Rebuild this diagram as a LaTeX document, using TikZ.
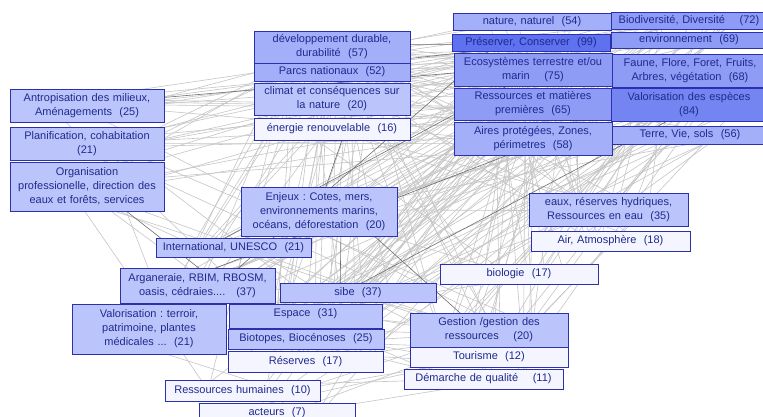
\documentclass[tikz,border=0pt]{standalone}
\usepackage{fontspec}
\setmainfont{Liberation Sans}
\frenchspacing
\usetikzlibrary{backgrounds,calc}
\definecolor{textc}{HTML}{1F2A8E}
\definecolor{bordc}{HTML}{2B30AE}
\definecolor{cA}{HTML}{F4F5FF}
\definecolor{cB}{HTML}{BCC5FB}
\definecolor{cC}{HTML}{A3AFF9}
\definecolor{cD}{HTML}{8E9CF6}
\definecolor{cE}{HTML}{7485F2}
\definecolor{cF}{HTML}{5E71EE}
\definecolor{edgec}{HTML}{C6C6C6}
\definecolor{edgedark}{HTML}{6E6E6E}
\begin{document}
\begin{tikzpicture}[x=1pt,y=-1pt,
  box/.style={draw=bordc, line width=0.9pt, text=textc, align=center,
    font=\fontsize{11}{14}\selectfont, inner xsep=3pt, inner ysep=1pt,
    text width=150pt},
  edge/.style={draw=edgec, line width=0.6pt},
  strong/.style={draw=edgedark, line width=0.6pt}]
\useasboundingbox (0,0) rectangle (763,417);
\pgfmathsetseed{12}

% top-middle column
\node[box, fill=cC, minimum height=32pt] (dev) at (332,47) {développement durable,\\ durabilité\ \ (57)};
\node[box, fill=cC, minimum height=18pt] (parcs) at (332,72) {Parcs nationaux\ \ (52)};
\node[box, fill=cB, minimum height=32pt] (clim) at (332,99) {climat et conséquences sur\\ la nature\ \ (20)};
\node[box, fill=cA, minimum height=22pt] (ener) at (332,129) {énergie renouvelable\ \ (16)};
% left column
\node[box, fill=cB, text width=148pt, minimum height=33pt] (antr) at (87,105.5) {Antropisation des milieux,\\ Aménagements\ \ (25)};
\node[box, fill=cB, text width=148pt, minimum height=33pt] (plan) at (87,143.5) {Planification, cohabitation\\ (21)};
\node[box, fill=cB, text width=148pt, minimum height=49pt] (orga) at (87,186.5) {Organisation\\ professionelle, direction des\\ eaux et forêts, services};
% top-right cluster
\node[box, fill=cC, text width=152pt, minimum height=17pt] (nat) at (532,21.5) {nature, naturel\ \ (54)};
\node[box, fill=cD, minimum height=17pt] (biod) at (689,20.5) {Biodiversité, Diversité\quad\ (72)};
\node[box, fill=cF, text width=152pt, minimum height=17pt] (pres) at (531,42.5) {Préserver, Conserver\ \ (99)};
\node[box, fill=cD, minimum height=16pt] (env) at (689,40) {environnement\ \ (69)};
\node[box, fill=cD, text width=152pt, minimum height=33pt] (eco) at (533,69.5) {Ecosystèmes terrestre et/ou\\ marin\quad\ (75)};
\node[box, fill=cD, minimum height=33pt] (faune) at (690,70.5) {Faune, Flore, Foret, Fruits,\\ Arbres, végétation\ \ (68)};
\node[box, fill=cD, text width=152pt, minimum height=32pt] (ress) at (533,104) {Ressources et matières\\ premières\ \ (65)};
\node[box, fill=cE, minimum height=33pt] (valo) at (689,104.5) {Valorisation des espèces\\ (84)};
\node[box, fill=cC, text width=152pt, minimum height=33pt] (aires) at (533,138.5) {Aires protégées, Zones,\\ périmetres\ \ (58)};
\node[box, fill=cC, minimum height=18pt] (terre) at (690,135) {Terre, Vie, sols\ \ (56)};
% middle
\node[box, fill=cB, minimum height=49pt] (enj) at (319,211.5) {Enjeux : Cotes, mers,\\ environnements marins,\\ océans, déforestation\ \ (20)};
\node[box, fill=cB, text width=149pt, minimum height=19pt] (intl) at (233.5,247.5) {International, UNESCO\ \ (21)};
\node[box, fill=cB, text width=149pt, minimum height=35pt] (arg) at (197.5,285.5) {Arganeraie, RBIM, RBOSM,\\ oasis, cédraies....\quad (37)};
\node[box, fill=cB, minimum height=19pt] (sibe) at (358,292.5) {sibe\ \ (37)};
\node[box, fill=cB, text width=148pt, minimum height=50pt] (valt) at (149,329) {Valorisation : terroir,\\ patrimoine, plantes\\ médicales ...\ \ (21)};
\node[box, fill=cB, text width=147pt, minimum height=24pt, text depth=6pt] (esp) at (305.5,316) {Espace\ \ (31)};
\node[box, fill=cB, minimum height=20pt] (biot) at (306,339) {Biotopes, Biocénoses\ \ (25)};
\node[box, fill=cA, text width=149pt, minimum height=21pt] (res) at (305.5,361.5) {Réserves\ \ (17)};
\node[box, fill=cA, text width=149pt, minimum height=21pt] (rh) at (242.5,390.5) {Ressources humaines\ \ (10)};
\node[box, fill=cA, minimum height=20pt] (act) at (277,413) {acteurs\ \ (7)};
% right / bottom
\node[box, fill=cB, text width=153pt, minimum height=33pt] (eaux) at (608.5,209.5) {eaux, réserves hydriques,\\ Ressources en eau\ \ (35)};
\node[box, fill=cA, text width=153pt, minimum height=20pt] (air) at (610.5,241) {Air, Atmosphère\ \ (18)};
\node[box, fill=cA, text width=152pt, minimum height=20pt] (bio) at (519,274) {biologie\ \ (17)};
\node[box, fill=cB, text width=152pt, minimum height=34pt] (gest) at (489,330) {Gestion /gestion des\\ ressources\quad\ (20)};
\node[box, fill=cA, text width=152pt, minimum height=20pt] (tour) at (489,357) {Tourisme\ \ (12)};
\node[box, fill=cA, text width=153pt, minimum height=20pt] (dem) at (483.5,379) {Démarche de qualité\quad\ (11)};

\begin{scope}[on background layer]
\fill[white] (0,0) rectangle (763,417);
\foreach \a/\b in {
 dev/nat, dev/eco, dev/biod, dev/env, dev/faune, dev/ress, dev/valo, dev/aires, dev/terre,
 parcs/eco, parcs/aires, parcs/biod, parcs/env, parcs/faune, parcs/ress, parcs/valo, parcs/terre, parcs/nat,
 nat/ress, nat/aires, pres/valo, pres/terre, eco/terre, biod/aires, env/aires, faune/aires,
 dev/sibe, dev/esp, dev/biot, dev/arg, dev/intl, parcs/sibe, parcs/esp, parcs/res, parcs/arg, parcs/intl,
 clim/sibe, clim/esp, clim/biot, clim/arg, ener/biot, ener/res,
 clim/pres, clim/eco, clim/env, clim/biod, clim/ress, clim/aires, clim/terre, clim/eaux, clim/air, clim/faune, clim/valo,
 ener/pres, ener/env, ener/ress, ener/air, ener/eaux, ener/valo, ener/sibe, ener/esp, ener/terre, ener/bio,
 antr/pres, antr/eco, antr/biod, antr/env, antr/ress, antr/valo, antr/aires, antr/dev, antr/parcs, antr/faune, antr/gest, antr/esp, antr/clim,
 plan/pres, plan/eco, plan/aires, plan/ress, plan/valo, plan/dev, plan/parcs, plan/biod, plan/terre, plan/gest, plan/esp, plan/sibe,
 orga/pres, orga/aires, orga/parcs, orga/dev, orga/valo, orga/ress, orga/valt, orga/intl, orga/gest, orga/eco, orga/biod, orga/rh, orga/sibe, orga/res,
 enj/pres, enj/eco, enj/biod, enj/env, enj/ress, enj/aires, enj/valo, enj/faune, enj/terre, enj/eaux, enj/dev, enj/bio,
 intl/pres, intl/parcs, intl/aires, intl/biod, intl/valo, intl/dev, intl/sibe, intl/eco, intl/ress,
 arg/valo, arg/biod, arg/faune, arg/eco, arg/parcs, arg/dev, arg/ress, arg/valt, arg/sibe, arg/gest, arg/esp, arg/env, arg/terre,
 sibe/pres, sibe/aires, sibe/parcs, sibe/eco, sibe/biod, sibe/valo, sibe/faune, sibe/ress, sibe/dev, sibe/gest, sibe/env, sibe/terre, sibe/eaux,
 valt/pres, valt/valo, valt/faune, valt/ress, valt/biod, valt/dev, valt/gest, valt/tour, valt/rh, valt/eco,
 esp/pres, esp/aires, esp/eco, esp/biod, esp/ress, esp/valo, esp/terre, esp/dev, esp/gest, esp/env, esp/bio,
 biot/pres, biot/eco, biot/biod, biot/faune, biot/valo, biot/env, biot/terre, biot/gest, biot/ress, biot/aires,
 res/pres, res/aires, res/parcs, res/biod, res/eco, res/valo, res/faune, res/gest, res/dev, res/tour,
 rh/pres, rh/valo, rh/ress, rh/dev, rh/gest, rh/eco, rh/dem, rh/tour,
 act/pres, act/valo, act/dev, act/gest, act/ress, act/biod, act/dem, act/tour,
 eaux/pres, eaux/ress, eaux/env, eaux/eco, eaux/terre, eaux/valo, eaux/dev, eaux/faune, eaux/biod, eaux/gest, eaux/nat,
 air/env, air/eco, air/ress, air/terre, air/dev, air/pres, air/nat, air/biod,
 bio/pres, bio/eco, bio/biod, bio/faune, bio/valo, bio/env, bio/terre, bio/dev, bio/nat, bio/ress,
 gest/pres, gest/ress, gest/valo, gest/eco, gest/biod, gest/aires, gest/dev, gest/env, gest/faune, gest/terre, gest/nat, gest/parcs, gest/sibe,
 tour/pres, tour/valo, tour/ress, tour/dev, tour/parcs, tour/aires, tour/biod, tour/eco, tour/sibe, tour/biot,
 dem/pres, dem/valo, dem/ress, dem/dev, dem/eco, dem/aires, dem/biod, dem/esp, dem/biot}
 \draw[edge] ($(\a)+(rand*45,rand*9)$) -- ($(\b)+(rand*45,rand*9)$);
\foreach \a/\b in {dev/pres, parcs/pres, ener/enj, enj/sibe, arg/pres, arg/aires, intl/eco, orga/arg, antr/eco, enj/gest, sibe/valo}
 \draw[strong] ($(\a)+(rand*30,rand*6)$) -- ($(\b)+(rand*30,rand*6)$);
\end{scope}
\end{tikzpicture}
\end{document}
